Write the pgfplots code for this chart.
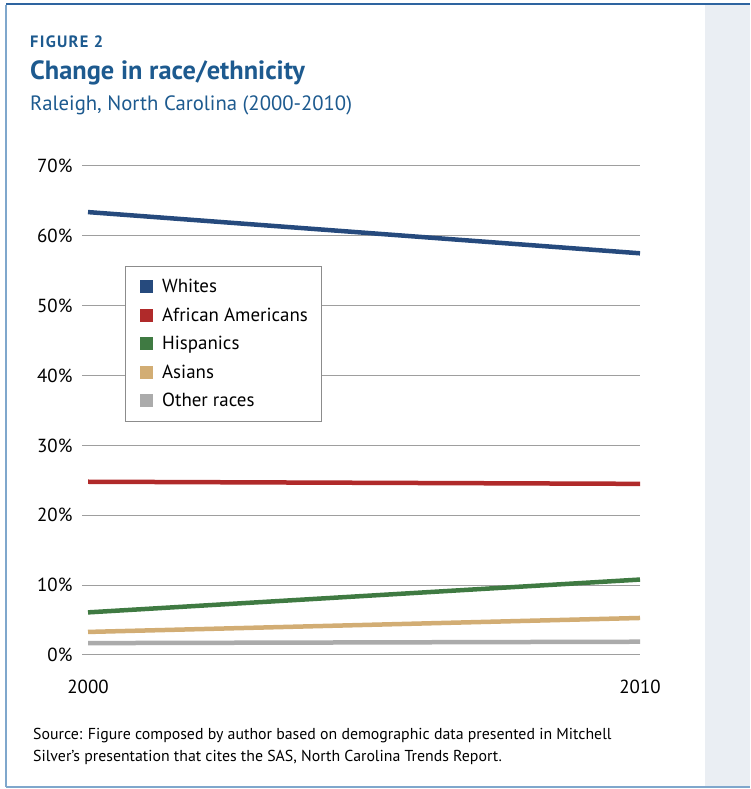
\documentclass[border=0pt]{standalone}
\usepackage{pgfplots}
\pgfplotsset{compat=1.18}
\usepackage{fontspec}
\setmainfont{PT Sans}
\definecolor{whites}{HTML}{264A7D}
\definecolor{afam}{HTML}{B02A2A}
\definecolor{hisp}{HTML}{3F7A42}
\definecolor{asian}{HTML}{D2AD74}
\definecolor{other}{HTML}{ABABAB}
\definecolor{titleblue}{HTML}{1D5A8F}
\definecolor{panel}{HTML}{EAEEF3}
\definecolor{framel}{HTML}{7FA7CC}
\definecolor{framet}{HTML}{2E64A0}
\begin{document}
\begin{tikzpicture}[x=1bp,y=1bp]
\fill[white] (0,0) rectangle (750,789);
\fill[panel] (705,2) rectangle (750,784);
\draw[framel,line width=1.2bp] (6,2) -- (6,784);
\draw[framel,line width=1.2bp] (6,2) -- (750,2);
\draw[framet,line width=1.6bp] (6,785) -- (750,785);
\node[anchor=base west,text=titleblue,font=\bfseries\fontsize{16.5}{18}\selectfont,inner sep=0] at (30,741) {F\kern1.3bp I\kern1.3bp G\kern1.3bp U\kern1.3bp R\kern1.3bp E\kern1.3bp\ 2};
\node[anchor=base west,text=titleblue,font=\bfseries\fontsize{26.5}{30}\selectfont,inner sep=0] at (30,709) {Change in race/ethnicity};
\node[anchor=base west,text=titleblue,font=\fontsize{20.8}{24}\selectfont,inner sep=0] at (30,678) {Raleigh, North Carolina (2000-2010)};
\node[anchor=base west,align=left,font=\fontsize{15.9}{20}\selectfont,inner sep=0] at (33,49) {Source: Figure composed by author based on demographic data presented in Mitchell};
\node[anchor=base west,align=left,font=\fontsize{15.9}{20}\selectfont,inner sep=0] at (33,27) {Silver's presentation that cites the SAS, North Carolina Trends Report.};
\begin{axis}[
  at={(82bp,134bp)}, anchor=origin,
  scale only axis, width=558bp, height=489bp,
  xmin=1999.891, xmax=2010, ymin=0, ymax=70,
  axis line style={draw=none},
  ymajorgrids, grid style={color=black!38, line width=1bp},
  xtick={2000,2010}, xticklabels={2000,2010},
  ytick={0,10,...,70},
  yticklabel={\pgfmathprintnumber{\tick}\%},
  tick style={draw=none},
  ticklabel style={font=\fontsize{19}{22}\selectfont},
  /pgf/number format/assume math mode=true,
  xticklabel style={yshift=-19bp},
  yticklabel style={xshift=-4bp},
  line width=4.5bp,
  legend style={at={(0.077,0.7955)}, anchor=north west, draw=black!45, line width=0.8bp, fill=white,
    font=\fontsize{19}{22}\selectfont, inner xsep=11bp, inner ysep=11bp,
    row sep=9.5bp, cells={anchor=west}},
  legend image code/.code={\fill[#1,draw=none] (0bp,-6.5bp) rectangle (13bp,6.5bp); \path (-3bp,0bp) (20bp,0bp);},
]
\addplot[whites] coordinates {(2000,63.4) (2010,57.5)};
\addplot[afam] coordinates {(2000,24.8) (2010,24.5)};
\addplot[hisp] coordinates {(2000,6.1) (2010,10.8)};
\addplot[asian] coordinates {(2000,3.3) (2010,5.3)};
\addplot[other] coordinates {(2000,1.7) (2010,1.9)};
\legend{Whites, African Americans, Hispanics, Asians, Other races}
\end{axis}
\end{tikzpicture}
\end{document}
